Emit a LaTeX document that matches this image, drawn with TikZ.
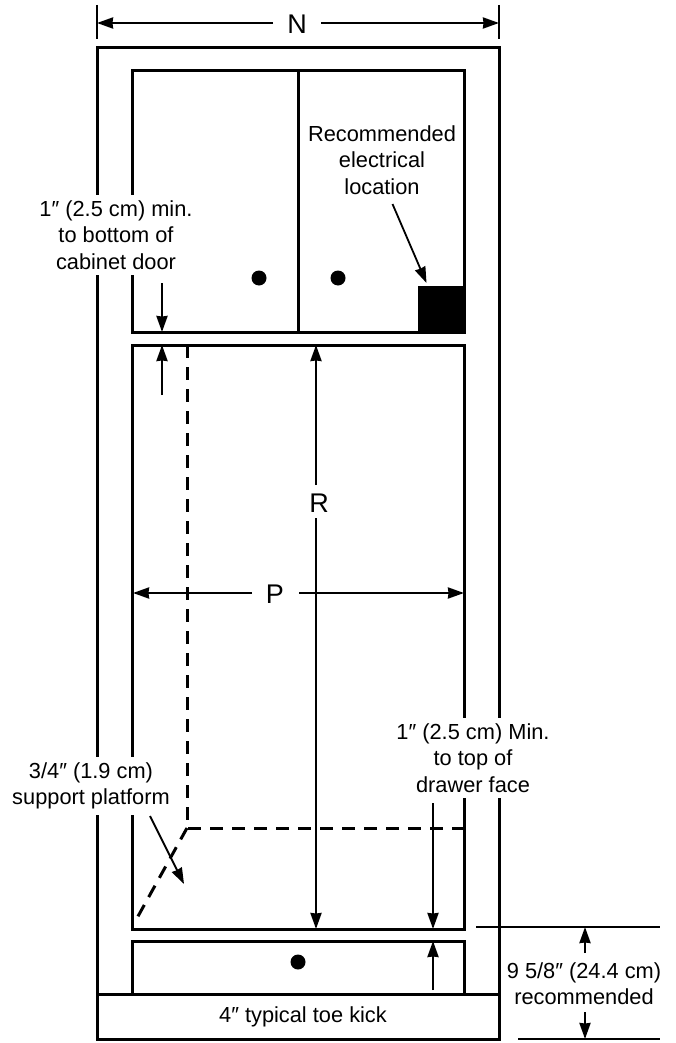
\documentclass[tikz,border=0pt]{standalone}
\usepackage{fontspec}
\setmainfont{Liberation Sans}
\usetikzlibrary{arrows.meta}
\usetikzlibrary{positioning}
\tikzset{
    >={Stealth[length=16pt,width=11pt,inset=0.5pt]},
    wall/.style={draw=black, line width=3pt},
    dimline/.style={draw=black, line width=2.3pt, ->},
    leader/.style={draw=black, line width=1.8pt, ->},
    hidden/.style={draw=black, line width=3pt, dash pattern=on 13pt off 9pt},
    extline/.style={draw=black, line width=2.2pt},
    note/.style={fill=white, align=center, inner xsep=4pt, inner ysep=6pt,
        font=\fontsize{21.8}{26.3}\selectfont},
    letter/.style={fill=white, inner xsep=3pt, inner ysep=2pt,
        font=\fontsize{27}{30}\selectfont},
    knob/.style={fill=black},
}

\begin{document}
\begin{tikzpicture}[x=1pt, y=-1pt]
\useasboundingbox (0,0) rectangle (675,1043);
% cabinet outline
\draw[wall] (97,48) rectangle (499,1039);
\draw[wall] (97,994) -- (499,994);
\draw[wall] (132.5,71) rectangle (464.5,332);
\draw[wall] (298,71) -- (298,332);
\draw[wall] (132.5,345) rectangle (464.5,929);
\draw[wall] (132.5,994) |- (464.5,941) -- (464.5,994);
\fill[black] (418,286) rectangle (465.5,333);
% handles
\fill[knob] (259,278) circle (7.5);
\fill[knob] (338,278) circle (7.5);
\fill[knob] (298,962) circle (7.5);
% labels
\node[note] (doorgap) at (116,235) {1″ (2.5 cm) min.\\to bottom of\\cabinet door};
\node[note] (platform) at (91,786) {3/4″ (1.9 cm)\\support platform};
\node[note] (drawergap) at (473,758) {1″ (2.5 cm) Min.\\to top of\\drawer face};
\node[note, fill=none] (electrical) at (382,160) {Recommended\\electrical\\location};
\node[note, fill=none] (toekick) at (303,1017) {4″ typical toe kick};
\node[note] (height) at (584,984) {9 5/8″ (24.4 cm)\\recommended};
\node[letter] (N) at (297,24) {N};
\node[letter] (P) at (275,594) {P};
\node[letter] (R) at (319,503) {R};
% hidden platform lines
\coordinate (platformtop) at (187,345);
\coordinate (platformback) at (187,828);
\coordinate (platformright) at (465,828);
\coordinate (platformfront) at (136.5,919);
\draw[hidden] (platformtop) -- (platformback) -- (platformright);
\draw[hidden] (platformback) -- (platformfront);
% arrow ends
\coordinate (Nleft) at (97,23);
\coordinate (Nright) at (499,23);
\coordinate (Ngapleft) at (273,23);
\coordinate (Ngapright) at (321,23);
\coordinate (Pleft) at (133,593);
\coordinate (Pright) at (464,593);
\coordinate (Pgapleft) at (252,593);
\coordinate (Pgapright) at (299,593);
\coordinate (Rtop) at (316,345);
\coordinate (Rbottom) at (316,929);
\coordinate (Rgaptop) at (316,485);
\coordinate (Rgapbottom) at (316,518);
\coordinate (doorfrom) at (162,283);
\coordinate (doorto) at (162,332);
\coordinate (facefrom) at (162,395);
\coordinate (faceto) at (162,345);
\coordinate (drawerfrom) at (433,803);
\coordinate (drawerto) at (433,929);
\coordinate (drawerupfrom) at (433,990);
\coordinate (drawerupto) at (433,941);
\coordinate (electricalfrom) at (392.5,204);
\coordinate (electricalto) at (426.5,283);
\coordinate (platformfrom) at (150,816);
\coordinate (platformto) at (184,884);
\coordinate (heighttop) at (585,927);
\coordinate (heightbottom) at (585,1039);
\coordinate (heightgaptop) at (585,953);
\coordinate (heightgapbottom) at (585,1012);
% dimensions
\draw[extline] (97,5) -- (97,39);
\draw[extline] (499,5) -- (499,39);
\draw[dimline] (Ngapleft) -- (Nleft);
\draw[dimline] (Ngapright) -- (Nright);
\draw[dimline] (Pgapleft) -- (Pleft);
\draw[dimline] (Pgapright) -- (Pright);
\draw[dimline] (Rgaptop) -- (Rtop);
\draw[dimline] (Rgapbottom) -- (Rbottom);
\draw[dimline] (doorfrom) -- (doorto);
\draw[dimline] (facefrom) -- (faceto);
\draw[dimline] (drawerfrom) -- (drawerto);
\draw[dimline] (drawerupfrom) -- (drawerupto);
\draw[leader] (electricalfrom) -- (electricalto);
\draw[leader] (platformfrom) -- (platformto);
% height dimension
\draw[extline] (476,927) -- (660,927);
\draw[extline] (518,1039) -- (660,1039);
\draw[dimline] (heightgaptop) -- (heighttop);
\draw[dimline] (heightgapbottom) -- (heightbottom);
\end{tikzpicture}
\end{document}
